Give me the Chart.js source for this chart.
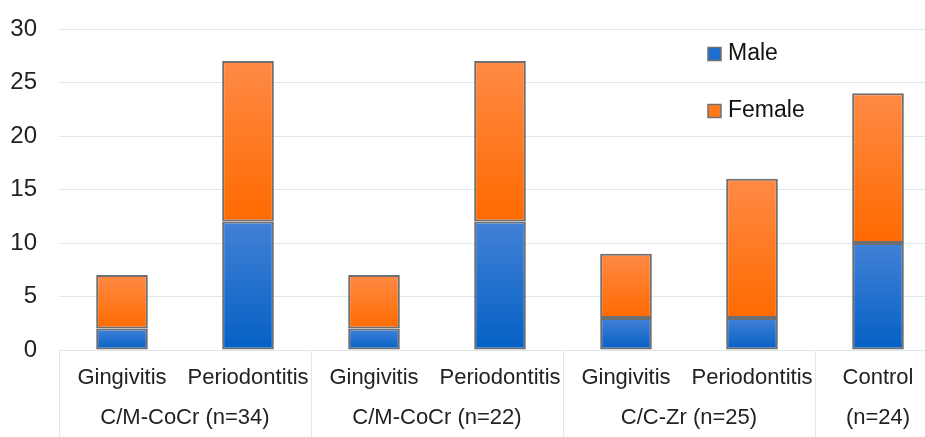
<!DOCTYPE html>
<html>
<head>
<meta charset="utf-8">
<script src="https://cdn.jsdelivr.net/npm/chart.js@4/dist/chart.umd.min.js"></script>
<style>
  html, body { margin: 0; padding: 0; background: #fff; overflow: hidden; }
  #wrap { width: 941px; height: 437px; }
</style>
</head>
<body>
<div id="wrap"><canvas id="chart" width="941" height="437"></canvas></div>
<script>
// data
const subLabels = ['Gingivitis', 'Periodontitis', 'Gingivitis', 'Periodontitis', 'Gingivitis', 'Periodontitis', 'Control'];
const groupLabels = ['C/M-CoCr (n=34)', 'C/M-CoCr (n=22)', 'C/C-Zr (n=25)', '(n=24)'];
const groupSpans = [2, 2, 2, 1];
const male = [2, 12, 2, 12, 3, 3, 10];
const female = [5, 15, 5, 15, 6, 13, 14];
const yTicks = [0, 5, 10, 15, 20, 25, 30];

const FONT = 'Liberation Sans, Arial, sans-serif';

function barGradient(ctx, lightTop, darkBottom, lowVals, highVals) {
    const chart = ctx.chart;
    const y = chart.scales.y;
    if (!y || ctx.dataIndex === undefined) return darkBottom;
    const i = ctx.dataIndex;
    const top = y.getPixelForValue(highVals[i]);
    const bottom = y.getPixelForValue(lowVals[i]);
    if (!isFinite(top) || !isFinite(bottom) || top === bottom) return darkBottom;
    const g = chart.ctx.createLinearGradient(0, top, 0, bottom);
    g.addColorStop(0, lightTop);
    g.addColorStop(1, darkBottom);
    return g;
}

const zeros = male.map(() => 0);
const totals = male.map((m, i) => m + female[i]);

// group labels, separators and legend
const extras = {
    id: 'extras',
    afterDraw(chart) {
        const c = chart.ctx;
        const x = chart.scales.x;
        const area = chart.chartArea;
        const step = x.getPixelForValue(1) - x.getPixelForValue(0);
        c.save();
        c.strokeStyle = '#e3e7e9';
        c.lineWidth = 1;
        let idx = 0;
        const edges = [x.getPixelForValue(0) - step / 2];
        groupSpans.forEach((span, g) => {
            const left = x.getPixelForValue(idx) - step / 2;
            const right = x.getPixelForValue(idx + span - 1) + step / 2;
            edges.push(right);
            c.fillStyle = '#222';
            c.font = '22px ' + FONT;
            c.textAlign = 'center';
            c.textBaseline = 'middle';
            c.fillText(groupLabels[g], (left + right) / 2, 418);
            idx += span;
        });
        edges.forEach(e => {
            c.beginPath();
            c.moveTo(Math.round(e) + 0.5, area.bottom);
            c.lineTo(Math.round(e) + 0.5, chart.height);
            c.stroke();
        });

        // legend
        const items = [
            { label: chart.data.datasets[0].label, color: '#1f6fd0', y: 54 },
            { label: chart.data.datasets[1].label, color: '#ff7a1f', y: 111 }
        ];
        items.forEach(it => {
            c.fillStyle = it.color;
            c.fillRect(708, it.y - 6.5, 13, 13);
            c.strokeStyle = '#707070';
            c.lineWidth = 1.5;
            c.strokeRect(708, it.y - 6.5, 13, 13);
            c.fillStyle = '#111';
            c.font = '23px ' + FONT;
            c.textAlign = 'left';
            c.textBaseline = 'middle';
            c.fillText(it.label, 728, it.y);
        });
        c.restore();
    }
};

new Chart(document.getElementById('chart').getContext('2d'), {
    type: 'bar',
    data: {
        labels: subLabels,
        datasets: [
            {
                label: 'Male',
                data: male,
                backgroundColor: ctx => barGradient(ctx, '#4281d6', '#0460c4', zeros, male),
                borderColor: '#6f6f6f',
                borderWidth: 2,
                borderSkipped: false,
                barPercentage: 0.41,
                categoryPercentage: 1
            },
            {
                label: 'Female',
                data: female,
                backgroundColor: ctx => barGradient(ctx, '#ff8a45', '#ff6a00', male, totals),
                borderColor: '#6f6f6f',
                borderWidth: 2,
                borderSkipped: false,
                barPercentage: 0.41,
                categoryPercentage: 1
            }
        ]
    },
    options: {
        responsive: false,
        animation: false,
        layout: { padding: { top: 29, right: 0, left: 0, bottom: 0 } },
        plugins: {
            legend: { display: false },
            tooltip: { enabled: false }
        },
        scales: {
            x: {
                stacked: true,
                grid: { display: false, drawTicks: false },
                border: { display: true, color: '#dfe6e9', width: 1 },
                ticks: {
                    color: '#222',
                    font: { family: FONT, size: 22 },
                    padding: 15,
                    maxRotation: 0,
                    autoSkip: false
                },
                afterFit: s => { s.height = 87; }
            },
            y: {
                stacked: true,
                min: 0,
                max: 30,
                afterBuildTicks: s => { s.ticks = yTicks.map(v => ({ value: v })); },
                grid: { color: '#dde8eb', drawTicks: true, tickLength: 22, tickColor: 'rgba(0,0,0,0)' },
                border: { display: false },
                ticks: {
                    color: '#222',
                    font: { family: FONT, size: 24 },
                    padding: 0
                },
                afterFit: s => { s.width = 59; }
            }
        }
    },
    plugins: [extras]
});
</script>
</body>
</html>
